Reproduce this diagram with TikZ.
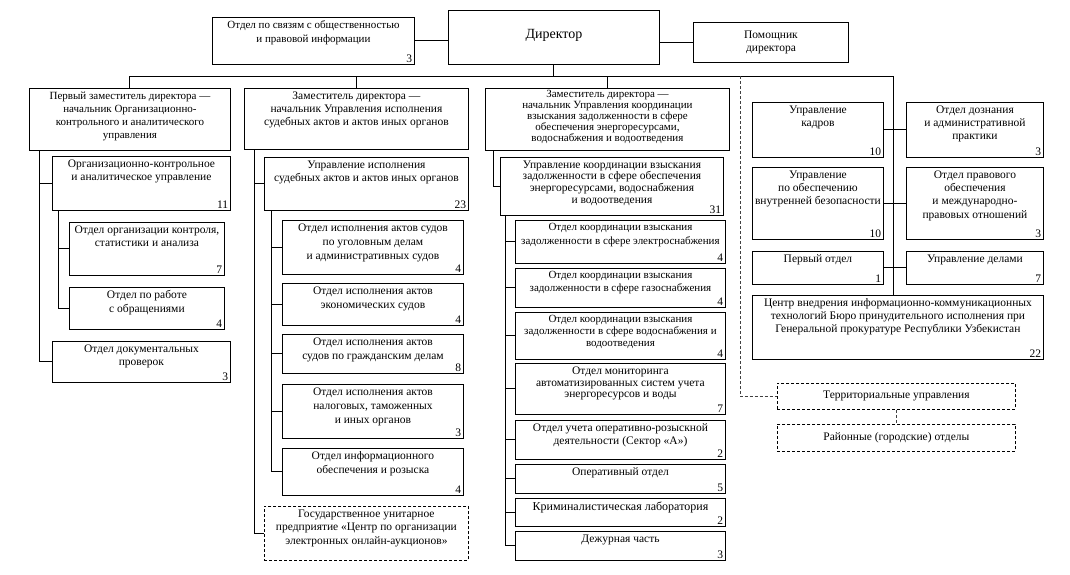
\documentclass[tikz,border=0pt]{standalone}
\usepackage{fontspec}
\setmainfont{Liberation Serif}
\newcommand\fsz{\fontsize{11.5}{13.5}\selectfont}
\tikzset{
  box/.style={draw, line width=0.9pt, inner sep=0pt, anchor=north west},
  dbox/.style={box, line width=0.8pt, dash pattern=on 3pt off 2pt},
  txt/.style={align=center, inner sep=1pt, anchor=north, font=\fsz},
  num/.style={inner sep=2.5pt, anchor=south east, font=\fsz},
  con/.style={line width=1pt},
  dcon/.style={line width=0.6pt, black!75, dash pattern=on 3pt off 2pt},
}
\newcommand\obx[8][]{%
  \node[box, minimum width=#5pt, minimum height=#6pt] (#2) at (#3,#4) {};
  \node[txt,#1] (#2t) at ([yshift=-2.5pt]#2.north) {#7};
  \node[num] (#2n) at (#2.south east) {#8};
}
\begin{document}
\begin{tikzpicture}[x=1pt,y=-1pt]
\useasboundingbox (0,0) rectangle (1070,574);

% top row
\obx[font=\fontsize{11}{13.5}\selectfont]{pr}{212}{17}{202}{47}{Отдел по связям с общественностью\\и правовой информации}{3}
\node[box, minimum width=211pt, minimum height=54pt] (dir) at (448,10) {};
\node[font=\fontsize{14}{16}\selectfont, inner sep=1pt] (dirt) at ([yshift=2pt]dir.center) {Директор};
\node[box, minimum width=155pt, minimum height=40pt] (pom) at (693,22) {};
\node[txt, anchor=center] (pomt) at (pom.center) {Помощник\\директора};

% column 1
\obx[font=\fontsize{11}{13}\selectfont]{d1}{29}{88}{201}{62}{Первый заместитель директора —\\начальник Организационно-\\контрольного и аналитического\\управления}{}
\obx{org}{52}{156}{178}{54}{Организационно-контрольное\\и аналитическое управление}{11}
\obx{ok}{69}{222}{155}{53}{Отдел организации контроля,\\статистики и анализа}{7}
\obx{obr}{69}{287}{155}{42}{Отдел по работе\\с обращениями}{4}
\obx{dok}{52}{341}{178}{41}{Отдел документальных\\проверок}{3}

% column 2
\obx[font=\fontsize{11.5}{13}\selectfont]{d2}{244}{88}{224}{61}{Заместитель директора —\\начальник Управления исполнения\\судебных актов и актов иных органов}{}
\obx{up2}{264}{157}{204}{53}{Управление исполнения\\судебных актов и актов иных органов}{23}
\obx[font=\fontsize{11.5}{14}\selectfont]{a1}{282}{220}{181}{54}{Отдел исполнения актов судов\\по уголовным делам\\и административных судов}{4}
\obx[font=\fontsize{11.5}{14}\selectfont]{a2}{282}{283}{181}{42}{Отдел исполнения актов\\экономических судов}{4}
\obx[font=\fontsize{11.5}{14}\selectfont]{a3}{282}{334}{181}{39}{Отдел исполнения актов\\судов по гражданским делам}{8}
\obx[font=\fontsize{11.5}{14}\selectfont]{a4}{282}{384}{181}{54}{Отдел исполнения актов\\налоговых, таможенных\\и иных органов}{3}
\obx[font=\fontsize{11.5}{14}\selectfont]{a5}{282}{448}{181}{47}{Отдел информационного\\обеспечения и розыска}{4}
\node[dbox, minimum width=204pt, minimum height=54pt] (gup) at (264,506) {};
\node[txt] (gupt) at ([yshift=-2.5pt]gup.north) {Государственное унитарное\\предприятие «Центр по организации\\электронных онлайн-аукционов»};

% column 3
\obx[font=\fontsize{11}{11}\selectfont, yshift=1pt]{d3}{485}{88}{244}{62}{Заместитель директора —\\начальник Управления координации\\взыскания задолженности в сфере\\обеспечения энергоресурсами,\\водоснабжения и водоотведения}{}
\obx[font=\fontsize{11.5}{11.7}\selectfont]{up3}{500}{157}{223}{58}{Управление координации взыскания\\задолженности в сфере обеспечения\\энергоресурсами, водоснабжения\\и водоотведения}{31}
\obx[font=\fontsize{11}{13.5}\selectfont]{e1}{515}{220}{210}{43}{Отдел координации взыскания\\задолженности в сфере электроснабжения}{4}
\obx[font=\fontsize{11}{12.5}\selectfont]{e2}{515}{268}{210}{39}{Отдел координации взыскания\\задолженности в сфере газоснабжения}{4}
\obx[font=\fontsize{11}{11.7}\selectfont]{e3}{515}{312}{210}{47}{Отдел координации взыскания\\задолженности в сфере водоснабжения и\\водоотведения}{4}
\obx[font=\fontsize{11.5}{11.7}\selectfont]{e4}{515}{363}{210}{51}{Отдел мониторинга\\автоматизированных систем учета\\энергоресурсов и воды}{7}
\obx[font=\fontsize{11.5}{13}\selectfont]{e5}{515}{420}{210}{39}{Отдел учета оперативно-розыскной\\деятельности (Сектор «А»)}{2}
\obx{e6}{515}{464}{210}{29}{Оперативный отдел}{5}
\obx[font=\fontsize{12}{13}\selectfont]{e7}{515}{498}{210}{28}{Криминалистическая лаборатория}{2}
\obx{e8}{515}{531}{210}{29}{Дежурная часть}{3}

% right column
\obx[font=\fontsize{11.5}{13}\selectfont]{kad}{752}{102}{131}{55}{Управление\\кадров}{10}
\obx[font=\fontsize{11.5}{13}\selectfont]{doz}{906}{102}{137}{55}{Отдел дознания\\и административной\\практики}{3}
\obx[font=\fontsize{11.5}{13}\selectfont]{bez}{752}{167}{131}{72}{Управление\\по обеспечению\\внутренней безопасности}{10}
\obx[font=\fontsize{11.5}{13.3}\selectfont]{prav}{906}{167}{137}{72}{Отдел правового\\обеспечения\\и международно-\\правовых отношений}{3}
\obx{perv}{752}{251}{131}{33}{Первый отдел}{1}
\obx{del}{906}{251}{137}{33}{Управление делами}{7}
\obx[font=\fontsize{11.5}{13}\selectfont]{cit}{752}{295}{291}{64}{Центр внедрения информационно-коммуникационных\\технологий Бюро принудительного исполнения при\\Генеральной прокуратуре Республики Узбекистан}{22}
\node[dbox, minimum width=238pt, minimum height=26pt] (ter) at (777,383) {};
\node[txt, anchor=center] (tert) at (ter.center) {Территориальные управления};
\node[dbox, minimum width=238pt, minimum height=27pt] (ray) at (777,424) {};
\node[txt, anchor=center] (rayt) at (ray.center) {Районные (городские) отделы};

% connectors
\coordinate (busy) at (0,76);
\coordinate (trk) at (893,76);
\coordinate (dsh) at (740,76);
\draw[con] (pr.east) -- (pr.east -| dir.west);
\draw[con] (dir.east |- pom.west) -- (pom.west);
\draw[con] (dir.south) -- (dir.south |- busy);
\draw[con] (d1.north) -- (d1.north |- busy) -- (trk) -- (trk |- cit.north);
\draw[con] (d2.north) -- (d2.north |- busy);
\draw[con] (d3.north) -- (d3.north |- busy);
\draw[con] (kad.east) -- (doz.west);
\draw[con] (bez.east) -- (prav.west);
\draw[con] (perv.east) -- (del.west);
\draw[dcon] (dsh) |- (ter.west);
\draw[dcon] (ter.south) -- (ray.north);

% column 1 tree
\coordinate (v1) at (39,150);
\draw[con] (v1) |- (dok.west);
\draw[con] (v1 |- org.west) -- (org.west);
\coordinate (v1b) at (58,210);
\draw[con] (v1b) |- (obr.west);
\draw[con] (v1b |- ok.west) -- (ok.west);

% column 2 tree
\coordinate (v2) at (254,149);
\draw[con] (v2) |- (gup.west);
\draw[con] (v2 |- up2.west) -- (up2.west);
\coordinate (v2b) at (271,210);
\draw[con] (v2b) |- (a5.west);
\foreach \n in {a1,a2,a3,a4} \draw[con] (v2b |- \n.west) -- (\n.west);

% column 3 tree
\coordinate (v3) at (493,150);
\draw[con] (v3) |- (up3.west);
\coordinate (v3b) at (505,215);
\draw[con] (v3b) |- (e8.west);
\foreach \n in {e1,e2,e3,e4,e5,e6,e7} \draw[con] (v3b |- \n.west) -- (\n.west);
\end{tikzpicture}
\end{document}
